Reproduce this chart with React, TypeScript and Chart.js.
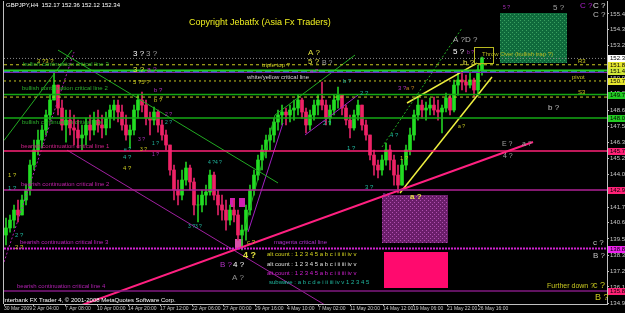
import React, { useEffect, useRef } from 'react';
import { Chart, registerables } from 'chart.js';

Chart.register(...registerables);

const FONT = '"Liberation Sans", Arial, sans-serif';

// ---- candle data (GBPJPY H4, one candle per ~2 bars) ----
const firstOpen = 139.78;
const highs = [
  140.98, 141.2, 141.91, 142.26, 142.61, 143.32, 145.1, 146.51, 147.22, 147.58,
  148.64, 149.7, 151.34, 150.41, 149.35, 148.64, 148.64, 148.29, 147.93, 147.58,
  148.07, 148.29, 148.5, 148.64, 148.29, 148.5, 148.99, 149.35, 149.35, 148.99,
  148.29, 147.58, 148.99, 149.7, 149.92, 149.35, 148.5, 148.85, 148.64, 147.93,
  147.22, 146.16, 144.74, 143.68, 144.39, 144.95, 144.74, 143.82, 142.61, 142.97,
  143.32, 144.39, 144.25, 142.97, 142.61, 142.26, 141.91, 142.26, 141.55, 140.49,
  141.91, 143.32, 144.39, 145.45, 146.16, 146.87, 147.37, 148.07, 148.64, 148.99,
  148.78, 148.99, 149.35, 149.7, 149.49, 148.78, 148.64, 149.35, 149.7, 150.63,
  149.35, 148.99, 149.7, 150.27, 149.7, 148.99, 148.29, 148.64, 149.35, 148.99,
  147.93, 146.87, 145.81, 145.1, 145.45, 146.3, 146.16, 145.45, 144.74, 145.1,
  146.16, 147.37, 148.64, 149.56, 149.35, 149.21, 149.49, 149.56, 149.35, 148.99,
  149.85, 149.7, 150.77, 151.26, 151.26, 151.12, 151.34, 150.91, 151.83, 152.4,
];
const lows = [
  139.07, 139.99, 140.28, 140.7, 141.2, 141.91, 142.61, 144.39, 145.45, 145.95,
  146.87, 147.93, 149.35, 148.29, 147.22, 146.37, 146.87, 146.16, 145.95, 145.81,
  146.16, 146.51, 146.87, 147.08, 146.66, 146.87, 147.37, 147.93, 147.79, 147.22,
  146.51, 145.95, 146.87, 148.07, 148.5, 147.58, 146.87, 147.58, 147.08, 146.51,
  145.81, 144.03, 142.26, 141.91, 142.26, 143.32, 142.97, 141.2, 140.7, 141.41,
  141.91, 142.61, 142.26, 141.2, 140.84, 140.13, 140.49, 140.7, 139.42, 138.72,
  139.42, 141.2, 142.61, 143.68, 144.39, 145.24, 145.81, 146.37, 147.22, 147.58,
  147.58, 147.79, 147.93, 148.29, 148.07, 147.01, 147.22, 147.93, 148.29, 148.64,
  147.58, 147.58, 148.29, 148.78, 148.29, 147.58, 146.66, 147.22, 147.93, 147.22,
  146.51, 145.1, 144.03, 143.82, 144.03, 144.74, 144.39, 143.32, 142.76, 143.32,
  144.39, 145.45, 146.51, 147.93, 148.07, 147.93, 148.29, 148.29, 147.93, 147.01,
  148.5, 148.29, 148.5, 149.7, 150.06, 149.92, 150.2, 149.56, 149.7, 151.12,
];
const closes = [
  140.28, 140.84, 141.55, 141.2, 142.26, 142.97, 144.74, 145.81, 146.51, 147.22,
  148.29, 149.35, 150.41, 148.78, 147.58, 147.93, 147.37, 147.22, 146.66, 146.87,
  147.58, 147.22, 147.93, 147.58, 147.37, 148.07, 148.64, 148.99, 148.5, 147.58,
  146.87, 147.22, 148.64, 149.35, 148.99, 148.07, 147.93, 148.5, 147.58, 146.87,
  146.16, 144.39, 142.97, 142.61, 143.68, 144.53, 143.54, 141.91, 141.91, 142.61,
  142.83, 144.03, 142.61, 141.91, 141.55, 140.84, 141.55, 141.2, 139.78, 140.13,
  141.55, 142.97, 144.03, 145.1, 145.81, 146.51, 146.87, 147.79, 148.29, 148.5,
  148.29, 148.64, 148.78, 149.35, 148.5, 147.58, 148.29, 148.99, 149.35, 148.99,
  148.07, 148.64, 149.35, 149.7, 148.78, 147.93, 147.37, 148.29, 148.99, 147.58,
  146.87, 145.45, 144.74, 144.39, 145.1, 145.81, 145.1, 144.03, 143.32, 144.74,
  145.81, 146.87, 148.29, 148.99, 148.64, 148.78, 148.99, 148.64, 148.5, 148.78,
  149.49, 148.64, 150.41, 150.77, 150.63, 150.41, 150.77, 150.06, 151.48, 152.34,
];

// ---- axes ----
const X_MIN = -0.5;
const X_MAX = 150.25;
const Y_MIN = 134.89;
const Y_MAX = 156.37;
const xTickValues = [-0.5, 6.75, 14.75, 22.75, 30.5, 38.5, 46.5, 54.25, 62.25, 70.25, 78, 86, 94.25, 101.75, 110.25, 118];
const xTickLabels = ['30 Mar 2009', '2 Apr 04:00', '7 Apr 08:00', '10 Apr 00:00', '14 Apr 20:00', '17 Apr 12:00', '22 Apr 06:00', '27 Apr 00:00', '29 Apr 16:00', '4 May 10:00', '7 May 02:00', '11 May 20:00', '14 May 12:00', '19 May 06:00', '21 May 22:00', '26 May 16:00'];
const yTickValues = [155.45, 154.35, 153.2, 152.05, 150.9, 149.8, 148.6, 147.5, 146.35, 145.2, 144.05, 142.9, 141.75, 140.65, 139.5, 138.35, 137.2, 136.1, 134.95];

// ---- horizontal levels ----
const levelPrices = [152.3, 151.85, 151.44, 151.37, 151.3, 150.7, 149.74, 149.56, 148.07, 145.73, 142.97, 138.82, 135.81];
const levelColors = ['#8a8a8a', '#c8c820', '#22cc22', '#3355ff', '#8822aa', '#c8c820', '#14a814', '#c8c820', '#14a814', '#ff2277', '#b02296', '#d022d0', '#801a80'];
const levelWidths = [1, 1, 2, 1.5, 1, 1, 1.5, 1, 1.5, 1.5, 1.5, 2, 1.5];
const levelDashes = [[1, 2], [3, 3], [], [6, 3], [], [2, 3], [], [3, 3], [], [], [], [2, 1], []];

// ---- trend lines (time index, price) ----
const trendLines = [
  { pts: [[19, 134.82], [131.75, 146.37]], c: '#ff2080', w: 2, d: [] },
  { pts: [[15.25, 145.8], [79.75, 134.82]], c: '#a020a0', w: 1, d: [] },
  { pts: [[13, 152.89], [68, 143.47]], c: '#22aa22', w: 1, d: [] },
  { pts: [[-0.5, 146.48], [16.5, 152.89]], c: '#22aa22', w: 1, d: [] },
  { pts: [[-0.5, 137.86], [17, 152.75]], c: '#b020b0', w: 1, d: [2, 2] },
  { pts: [[59, 139.57], [67.25, 148.29], [87.25, 152.54]], c: '#22aa22', w: 1, d: [] },
  { pts: [[60.5, 139.99], [69.25, 147.72]], c: '#a020c0', w: 1, d: [] },
  { pts: [[74.75, 146.87], [88, 149.7]], c: '#a020c0', w: 1, d: [] },
  { pts: [[94, 146.02], [114, 154.45]], c: '#22aa22', w: 1, d: [2, 2] },
  { pts: [[98.5, 142.76], [121.5, 150.98]], c: '#f0f040', w: 1.5, d: [] },
  { pts: [[100.25, 149.14], [117.75, 151.97]], c: '#f0f040', w: 1.5, d: [] },
];

// ---- zones ----
const zones = [
  { i0: 123.5, i1: 140.25, p0: 155.52, p1: 151.97, kind: 'green' },
  { i0: 94, i1: 110.5, p0: 142.61, p1: 139.21, kind: 'purple' },
  { i0: 94.5, i1: 110.5, p0: 138.57, p1: 136.02, kind: '#ff0a6e' },
  { i0: 56, i1: 57.25, p0: 142.4, p1: 141.76, kind: '#d020b0' },
  { i0: 58.25, i1: 59.75, p0: 142.4, p1: 141.76, kind: '#d020b0' },
  { i0: 57.25, i1: 59.25, p0: 139.49, p1: 138.85, kind: '#d850a8' },
];
const throwBox = { i0: 117, i1: 121.75, p0: 153.11, p1: 151.97 };

// ---- axis price boxes ----
const axisMarkPrices = [152.34, 151.85, 151.44, 150.7, 149.74, 148.07, 145.73, 142.97, 138.82, 135.81];
const axisMarkColors = ['#ffffff', '#e6e62e', '#d2e83a', '#e6e62e', '#22cc22', '#22cc22', '#ff2277', '#ff2277', '#ee22ee', '#ff2277'];

// ---- text objects [text, index, price, color, size, bold] ----
const G = '#2cb02c', Y = '#c8c820', T = '#20b8a0', P = '#b030c0', W = '#e0e0e0', S = '#a0a0a0';
const texts: [string, number, number, string, number, boolean?][] = [
  ['bullish continuation critical line 3', 4.25, 151.9, G, 6],
  ['bullish continuation critical line 2', 4, 150.2, G, 6],
  ['bullish continuation critical line 1', 4, 147.79, G, 6],
  ['bearish continuation critical line 1', 3.75, 146.09, '#d0208a', 6],
  ['bearish continuation critical line 2', 3.75, 143.39, '#c020a8', 6],
  ['bearish continuation critical line 3', 3.5, 139.28, '#c020c0', 6],
  ['bearish continuation critical line 4', 2.75, 136.16, '#b020b0', 6],
  ['white/yellow critical line', 60.25, 150.98, '#d8d8d8', 6],
  ['triple top ?', 64, 151.83, Y, 6],
  ['magenta critical line', 67, 139.28, '#b030d0', 6],
  ['Throw Over (bullish trap ?)', 119, 152.61, '#b8b820', 6],
  ['R3', 143, 152.12, Y, 6],
  ['pivot', 141.5, 150.98, Y, 6],
  ['S3', 143, 149.92, Y, 6],
  ['Copyright Jebatfx (Asia Fx Traders)', 45.75, 154.88, '#f0f020', 9],
  ['Further down ?', 135.25, 136.16, Y, 7],
  ['c ?', 146.75, 136.23, Y, 9],
  ['B ?', 147.25, 135.38, Y, 9],
  ['alt count : 1 2 3 4 5 a b c i ii iii iv v', 65.25, 138.43, '#d8d820', 6],
  ['alt count : 1 2 3 4 5 a b c i ii iii iv v', 65.25, 137.72, W, 6],
  ['alt count : 1 2 3 4 5 a b c i ii iii iv v', 65.25, 137.08, '#d020d0', 6],
  ['subwave : a b c d e i ii iii iv v 1 2 3 4 5', 65.75, 136.45, T, 6],
  ['3 ?', 31.75, 152.61, '#ffffff', 8], ['3 ?', 35, 152.61, S, 8],
  ['3 ?', 31.75, 151.48, '#e0e040', 8], ['a ?', 35.25, 151.48, P, 7],
  ['5 ?5 ?', 31.75, 150.63, Y, 6],
  ['b ?', 37, 150.06, P, 6], ['b ?', 37, 149.35, Y, 6],
  ['3 ?3 ?', 7.75, 152.12, Y, 6],
  ['A ?', 75.5, 152.68, '#e0e040', 8], ['5 ?', 75.5, 152.04, '#e0e040', 8], ['B ?', 79, 151.97, S, 7],
  ['a ?', 76, 151.41, P, 6],
  ['b ?', 84.25, 150.7, T, 6], ['2 ?', 88.5, 149.85, T, 6],
  ['3 ?', 98, 150.2, P, 6], ['a ?', 100, 150.2, '#c08020', 6],
  ['A ?D ?', 111.75, 153.6, '#b0b0b0', 8],
  ['5 ?', 111.75, 152.75, '#ffffff', 8], ['b ?', 115.25, 152.68, P, 5],
  ['b ?', 114.25, 151.97, '#e0e040', 8],
  ['5 ?', 124.25, 155.87, P, 5], ['5 ?', 136.75, 155.87, S, 8],
  ['C ?', 143.5, 156.01, '#b020d0', 8], ['C ?', 146.75, 156.01, W, 8],
  ['C ?', 146.75, 155.38, '#c0c0c0', 8],
  ['b ?', 135.5, 148.78, '#c0c0c0', 8],
  ['E ?', 124, 146.23, S, 7], ['a ?', 129, 146.23, S, 7], ['4 ?', 124.25, 145.38, S, 7],
  ['4 ?', 29.25, 145.31, T, 6], ['4 ?', 29.25, 144.53, Y, 6],
  ['e ?', 29.5, 145.8, T, 5], ['3 ?', 33.5, 145.8, Y, 5], ['3 ?', 33, 146.51, P, 5],
  ['1 ?', 36.5, 146.23, T, 5], ['1 ?', 36.5, 145.45, P, 5],
  ['2 ?', 39.75, 148.29, P, 5], ['2 ?', 39.75, 147.72, T, 5],
  ['1 ?', 0.5, 144.03, Y, 6], ['1 ?', 0.5, 143.11, T, 6],
  ['2 ?', 2.25, 139.78, T, 6], ['2 ?', 2.25, 138.93, Y, 6],
  ['4 ?4 ?', 50.5, 144.88, T, 5], ['3 ?3 ?', 45.5, 140.35, T, 5],
  ['2 ?', 79.25, 147.72, T, 6], ['1 ?', 85.25, 145.95, T, 6], ['4 ?', 96, 146.87, T, 6],
  ['1 ?', 98.5, 145.24, Y, 6], ['3 ?', 89.75, 143.18, T, 6],
  ['c ?', 60.25, 139.28, Y, 6], ['4 ?', 59.25, 138.36, '#e0e040', 9, true],
  ['B ?', 53.5, 137.65, P, 8], ['4 ?', 56.75, 137.65, '#ffffff', 8], ['A ?', 56.5, 136.73, '#909090', 8],
  ['a ?', 101, 142.47, '#e0e040', 8, true], ['5 ?', 94.25, 142.54, P, 5],
  ['c ?', 146.75, 139.21, '#c0c0c0', 8], ['B ?', 146.75, 138.29, '#c0c0c0', 8],
  ['a ?', 113, 147.44, Y, 5],
];
const headerText = 'GBPJPY,H4  152.17 152.36 152.12 152.34';
const footerText = 'Interbank FX Trader 4, \u00a9 2001-2008 MetaQuotes Software Corp.';

function makePattern(ctx: CanvasRenderingContext2D, bg: string, dot: string) {
  const c = document.createElement('canvas');
  c.width = 4; c.height = 4;
  const g = c.getContext('2d')!;
  g.fillStyle = bg; g.fillRect(0, 0, 4, 4);
  g.fillStyle = dot; g.fillRect(0, 0, 1, 1); g.fillRect(2, 2, 1, 1);
  return ctx.createPattern(c, 'repeat');
}

const overlay = {
  id: 'overlay',
  beforeDraw(chart: any) {
    const ctx = chart.ctx;
    ctx.save();
    ctx.fillStyle = '#000';
    ctx.fillRect(0, 0, chart.width, chart.height);
    ctx.restore();
  },
  beforeDatasetsDraw(chart: any) {
    const { ctx, chartArea: a, scales } = chart;
    const xs = scales.x, ys = scales.y;
    ctx.save();
    ctx.beginPath(); ctx.rect(a.left, a.top, a.right - a.left, a.bottom - a.top); ctx.clip();
    zones.forEach(z => {
      const x0 = xs.getPixelForValue(z.i0), x1 = xs.getPixelForValue(z.i1);
      const y0 = ys.getPixelForValue(z.p0), y1 = ys.getPixelForValue(z.p1);
      let fill: any = z.kind;
      if (z.kind === 'green') fill = makePattern(ctx, '#0f6a3c', '#3aa060');
      if (z.kind === 'purple') fill = makePattern(ctx, '#6a1e6a', '#b050b0');
      ctx.fillStyle = fill;
      ctx.fillRect(Math.round(x0), Math.round(y0), Math.round(x1 - x0), Math.round(y1 - y0));
    });
    ctx.restore();
  },
  afterDatasetsDraw(chart: any) {
    const { ctx, scales } = chart;
    const xs = scales.x, ys = scales.y;
    ctx.save();
    const bx0 = xs.getPixelForValue(throwBox.i0), bx1 = xs.getPixelForValue(throwBox.i1);
    const by0 = ys.getPixelForValue(throwBox.p0), by1 = ys.getPixelForValue(throwBox.p1);
    ctx.strokeStyle = '#b8b820'; ctx.lineWidth = 1;
    ctx.strokeRect(Math.round(bx0) + 0.5, Math.round(by0) + 0.5, Math.round(bx1 - bx0), Math.round(by1 - by0));
    ctx.textBaseline = 'middle'; ctx.textAlign = 'left';
    texts.forEach(([t, i, p, c, s, b]) => {
      ctx.font = `${b ? 'bold ' : ''}${s}px ${FONT}`;
      ctx.fillStyle = c;
      ctx.fillText(t, xs.getPixelForValue(i), ys.getPixelForValue(p));
    });
    ctx.font = `6px ${FONT}`;
    ctx.fillStyle = '#ffffff';
    ctx.fillText(headerText, 6, 5);
    ctx.fillText(footerText, 3, 300);
    ctx.restore();
  },
  afterDraw(chart: any) {
    const { ctx, chartArea: a, scales } = chart;
    const ys = scales.y;
    ctx.save();
    ctx.strokeStyle = '#c0c0c0'; ctx.lineWidth = 1;
    ctx.beginPath(); ctx.moveTo(a.left - 0.5, a.top); ctx.lineTo(a.left - 0.5, a.bottom); ctx.stroke();
    ctx.font = `6px ${FONT}`; ctx.textBaseline = 'middle'; ctx.textAlign = 'left';
    axisMarkPrices.forEach((p, k) => {
      const y = Math.round(ys.getPixelForValue(p));
      ctx.fillStyle = axisMarkColors[k];
      ctx.fillRect(a.right + 1, y - 3, 18, 7);
      ctx.fillStyle = '#000';
      ctx.fillText(p.toFixed(2), a.right + 3, y + 0.5);
    });
    ctx.restore();
  },
};

export default function App() {
  const ref = useRef<HTMLCanvasElement>(null);
  useEffect(() => {
    const canvas = ref.current!;
    const idx = closes.map((_, i) => i);
    const opens = closes.map((_, i) => (i === 0 ? firstOpen : closes[i - 1]));
    const colors = idx.map(i => (closes[i] >= opens[i] ? '#22dd22' : '#ee2266'));
    const wickColors = idx.map(i => (closes[i] >= opens[i] ? '#22cc22' : '#dd2266'));

    const lineSets: any[] = [];
    levelPrices.forEach((p, k) => {
      lineSets.push({
        type: 'line', data: [{ x: X_MIN, y: p }, { x: X_MAX, y: p }],
        borderColor: levelColors[k], borderWidth: levelWidths[k], borderDash: levelDashes[k],
        pointRadius: 0, fill: false, order: 0,
      });
    });
    trendLines.forEach(l => {
      lineSets.push({
        type: 'line', data: l.pts.map(([x, y]) => ({ x, y })),
        borderColor: l.c, borderWidth: l.w, borderDash: l.d,
        pointRadius: 0, fill: false, order: 0, tension: 0,
      });
    });

    const chart = new Chart(canvas, {
      type: 'bar',
      data: {
        datasets: [
          ...lineSets,
          {
            type: 'bar', data: idx.map(i => ({ x: i, y: [opens[i], closes[i]] })),
            backgroundColor: colors, barThickness: 3, grouped: false, order: 1, borderWidth: 0,
          },
          {
            type: 'bar', data: idx.map(i => ({ x: i, y: [lows[i], highs[i]] })),
            backgroundColor: wickColors, barThickness: 1, grouped: false, order: 2, borderWidth: 0,
          },
        ] as any,
      },
      options: {
        responsive: false,
        animation: false,
        devicePixelRatio: 1,
        events: [],
        layout: { padding: { left: 4, top: 1, right: 0, bottom: 0 } },
        plugins: { legend: { display: false }, tooltip: { enabled: false } },
        scales: {
          x: {
            type: 'linear', min: X_MIN, max: X_MAX, offset: false,
            grid: { display: true, drawOnChartArea: false, drawTicks: true, tickLength: 2, color: '#c0c0c0', offset: false },
            border: { display: true, color: '#c0c0c0' },
            ticks: {
              autoSkip: false, maxRotation: 0, align: 'start', padding: 0,
              color: '#c8c8c8', font: { size: 5, family: FONT },
              callback: (_v: any, i: number) => xTickLabels[i],
            },
            afterBuildTicks: (s: any) => { s.ticks = xTickValues.map(v => ({ value: v })); },
            afterFit: (s: any) => { s.height = 9; s.paddingLeft = 0; s.paddingRight = 0; },
          },
          y: {
            type: 'linear', position: 'right', min: Y_MIN, max: Y_MAX, beginAtZero: false,
            grid: { display: true, drawOnChartArea: false, drawTicks: true, tickLength: 2, color: '#c0c0c0' },
            border: { display: true, color: '#c0c0c0' },
            ticks: {
              autoSkip: false, padding: 1, color: '#c8c8c8', font: { size: 6, family: FONT },
              callback: (v: any) => Number(v).toFixed(2),
            },
            afterBuildTicks: (s: any) => { s.ticks = yTickValues.map(v => ({ value: v })); },
            afterFit: (s: any) => { s.width = 18; s.paddingTop = 0; s.paddingBottom = 0; },
          },
        },
      } as any,
      plugins: [overlay],
    });
    return () => chart.destroy();
  }, []);
  return (
    <div style={{ position: 'fixed', left: 0, top: 0, width: 625, height: 313, background: '#000' }}>
      <canvas ref={ref} width={625} height={313} style={{ display: 'block' }} />
    </div>
  );
}
